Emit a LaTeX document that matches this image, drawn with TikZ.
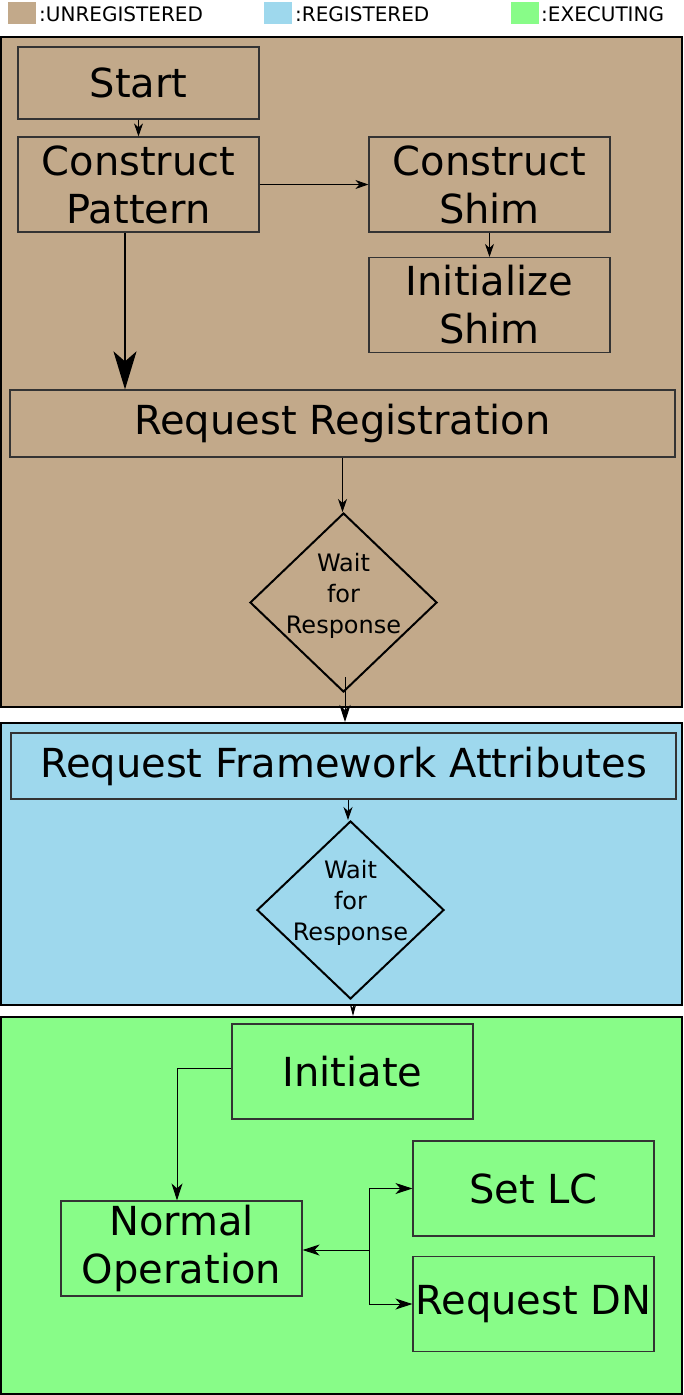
\documentclass[tikz,border=0pt]{standalone}
\usepackage{fontspec}
\setmainfont{DejaVu Sans}
\usetikzlibrary{arrows.meta,shapes.geometric}
\definecolor{unregcol}{RGB}{194,169,138}
\definecolor{regcol}{RGB}{158,216,237}
\definecolor{execcol}{RGB}{136,252,136}
\begin{document}
\begin{tikzpicture}[x=1pt, y=-1pt,
    frame/.style={rectangle, draw, line width=2pt, minimum width=681pt, inner sep=0pt},
    box/.style={rectangle, draw=black!80, line width=1.2pt, minimum width=241pt, minimum height=95pt,
        inner sep=0pt, align=center, font=\fontsize{40}{48}\selectfont},
    widebox/.style={box, minimum width=665pt, minimum height=67pt},
    wait/.style={diamond, draw, line width=2pt, minimum width=187pt, minimum height=179pt, inner sep=0pt,
        label={[align=center, yshift=7pt, font=\fontsize{24}{31}\selectfont]center:Wait\\for\\Response}},
    swatch/.style={rectangle, minimum width=28pt, minimum height=22pt, inner sep=0pt},
    legend/.style={anchor=base west, inner sep=0pt, font=\fontsize{20}{24}\selectfont},
    tip/.style={-{Stealth[length=13pt, width=9pt, inset=4pt]}, line width=1pt},
    gtip/.style={-{Stealth[length=17pt, width=11pt, inset=5pt]}, line width=1pt},
    bigtip/.style={-{Stealth[length=38pt, width=23pt, inset=10pt]}, line width=2pt}
]
    \useasboundingbox (0,0) rectangle (683,1395);

    % legend
    \node[swatch, fill=unregcol] (swunreg) at (22,13) {};
    \node[legend] (txunreg) at (39,21) {:UNREGISTERED};
    \node[swatch, fill=regcol] (swreg) at (278,13) {};
    \node[legend] (txreg) at (295,21) {:REGISTERED};
    \node[swatch, fill=execcol] (swexec) at (525,13) {};
    \node[legend] (txexec) at (541,21) {:EXECUTING};

    % frames
    \node[frame, fill=unregcol, minimum height=670pt] (unregframe) at (341.5,372) {};
    \node[frame, fill=regcol, minimum height=282pt] (regframe) at (341.5,864) {};
    \node[frame, fill=execcol, minimum height=377pt] (execframe) at (341.5,1205.5) {};

    % UNREGISTERED
    \node[box, minimum height=72pt] (start) at (138.5,83) {Start};
    \node[box] (cpattern) at (138.5,184.5) {Construct\\Pattern};
    \node[box] (cshim) at (489.5,184.5) {Construct\\Shim};
    \node[box] (ishim) at (489.5,305) {Initialize\\Shim};
    \node[widebox] (reqreg) at (342.5,423.5) {Request Registration};
    \node[wait] (wait1) at (343.5,602.5) {};

    \draw[tip] (start) -- (cpattern);
    \draw[tip] (cpattern) -- (cshim);
    \draw[tip] (cshim) -- (ishim);
    \draw[bigtip] ([xshift=-13.5pt]cpattern.south) -- ([xshift=-13.5pt]cpattern.south |- reqreg.north);
    \draw[tip] (reqreg.south) -- (reqreg.south |- wait1.north);
    \draw[gtip] ([xshift=1.5pt, yshift=16pt]wait1.south) -- ([xshift=1.5pt]wait1.south |- regframe.north);

    % REGISTERED
    \node[widebox, minimum height=66pt] (reqfw) at (343.5,766) {Request Framework Attributes};
    \node[wait, minimum height=178pt] (wait2) at (350.5,910) {};

    \draw[tip] ([xshift=-2.5pt]wait2.north |- reqfw.south) -- ([xshift=-2.5pt]wait2.north);
    \draw[-{Stealth[length=11pt, width=6pt, inset=3pt]}, line width=1pt]
        ([xshift=2.5pt, yshift=-6pt]wait2.south) -- ([xshift=2.5pt]wait2.south |- execframe.north);

    % EXECUTING
    \node[box] (initiate) at (352.5,1071.5) {Initiate};
    \node[box] (setlc) at (533.5,1188.5) {Set LC};
    \node[box] (normal) at (181.5,1248.5) {Normal\\Operation};
    \node[box] (reqdn) at (533.5,1304) {Request DN};
    \coordinate (split) at (369,1250);

    \draw[gtip] ([yshift=3.5pt]initiate.west) -| ([xshift=-4.5pt]normal.north);
    \draw[gtip] (split) -- (normal.east |- split);
    \draw[gtip] (split) |- (setlc.west);
    \draw[gtip] (split) |- (reqdn.west);
\end{tikzpicture}
\end{document}
